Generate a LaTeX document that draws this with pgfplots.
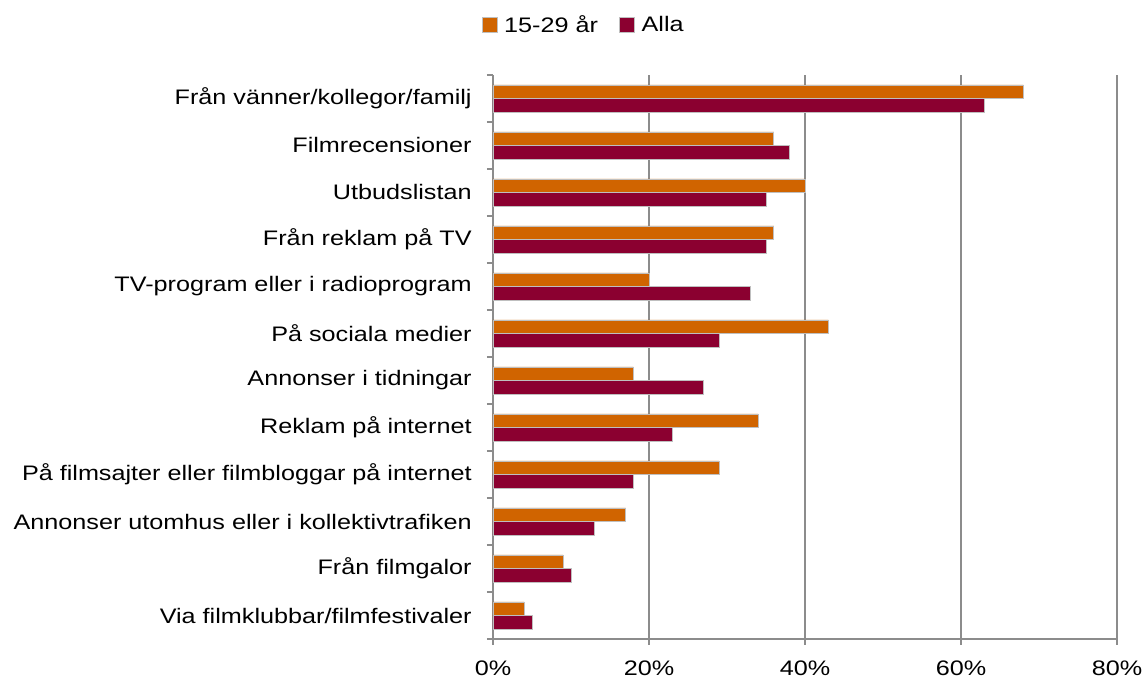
\documentclass[border=0pt]{standalone}
\usepackage{pgfplots}
\pgfplotsset{compat=1.18}
\usepackage{fontspec}
\setmainfont{Liberation Sans}[FakeStretch=1.2]
\definecolor{cOrange}{RGB}{208,100,0}
\definecolor{cRed}{RGB}{139,0,48}
\definecolor{cGrid}{RGB}{140,140,140}
\begin{document}
\begin{tikzpicture}
\begin{axis}[
  scale only axis,
  width=468pt, height=423pt,
  xmin=0, xmax=80,
  ymin=-0.5, ymax=11.5,
  xbar,
  bar width=10.2pt,
  axis x line*=bottom,
  axis y line*=left,
  axis line style={cGrid, line width=1pt, -},
  tick align=outside,
  major tick length=4.5pt,
  tick style={cGrid, line width=1pt},
  xtick={0,20,40,60,80},
  xticklabel={\pgfmathprintnumber{\tick}\%},
  /pgf/number format/assume math mode=true,
  xmajorgrids,
  grid style={cGrid, line width=1pt},
  ytick={-0.5,0.5,...,11.5},
  y tick label as interval,
  yticklabels={Via filmklubbar/filmfestivaler, Från filmgalor, Annonser utomhus eller i kollektivtrafiken, På filmsajter eller filmbloggar på internet, Reklam på internet, Annonser i tidningar, På sociala medier, TV-program eller i radioprogram, Från reklam på TV, Utbudslistan, Filmrecensioner, Från vänner/kollegor/familj},
  tick label style={font=\fontsize{15.75}{19}\selectfont, text=black},
  yticklabel style={xshift=-8pt},
  xticklabel style={yshift=-8pt},
  legend columns=2,
  legend style={draw=none, at={(0.146,1.089)}, anchor=center,
    font=\fontsize{15.75}{19}\selectfont,
    /tikz/every odd column/.append style={column sep=3pt},
    /tikz/every even column/.append style={column sep=14pt}},
  legend image code/.code={\fill[#1] (0pt,-5.6pt) rectangle (11.2pt,5.6pt);},
]
\addplot[fill=cOrange, draw=black!25, line width=0.5pt, bar shift=5.1pt] coordinates {
(4,0) (9,1) (17,2) (29,3) (34,4) (18,5) (43,6) (20,7) (36,8) (40,9) (36,10) (68,11)};
\addlegendentry{15-29 år}
\addplot[fill=cRed, draw=black!25, line width=0.5pt, bar shift=-5.1pt] coordinates {
(5,0) (10,1) (13,2) (18,3) (23,4) (27,5) (29,6) (33,7) (35,8) (35,9) (38,10) (63,11)};
\addlegendentry{Alla}
\coordinate (sw) at (rel axis cs:0,0);
\end{axis}
\pgfresetboundingbox
\path (sw) ++(-369.75pt,-33.75pt) rectangle ++(861pt,513pt);
\end{tikzpicture}
\end{document}
